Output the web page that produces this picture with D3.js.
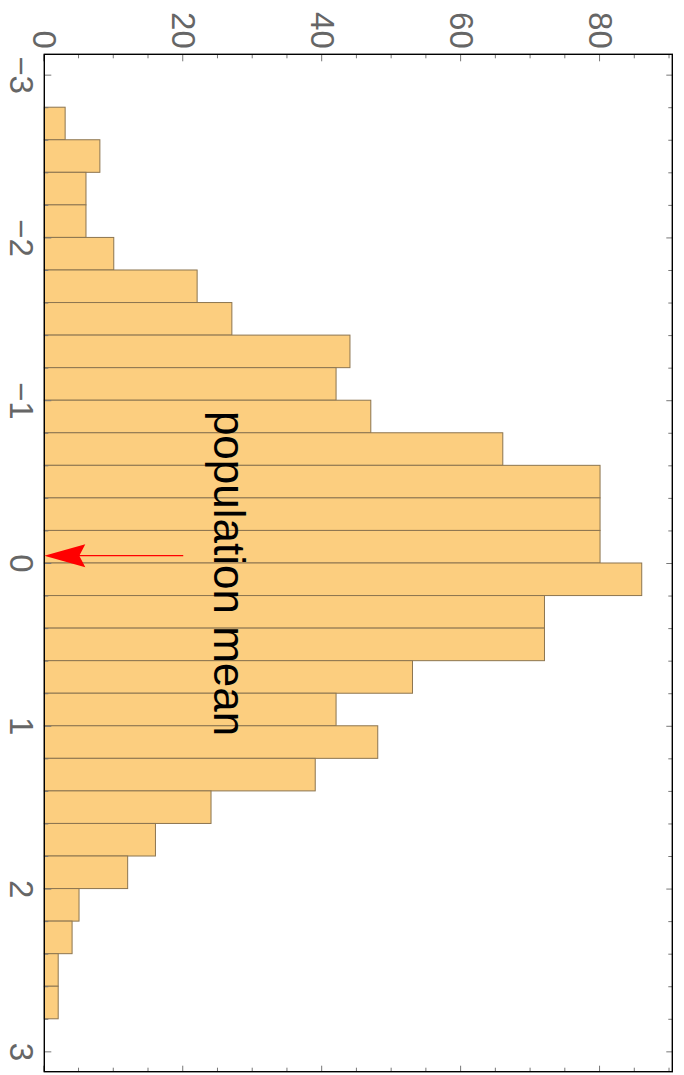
<!DOCTYPE html>
<html>
<head>
<meta charset="utf-8">
<script src="https://cdn.jsdelivr.net/npm/d3@7"></script>
<style>
  html, body { margin: 0; padding: 0; background: #fff; }
  svg { display: block; }
</style>
</head>
<body>
<script>
// Histogram bins (lower edge of each 0.2-wide bin) and their counts
const binStarts = [-2.8, -2.6, -2.4, -2.2, -2.0, -1.8, -1.6, -1.4, -1.2, -1.0,
                   -0.8, -0.6, -0.4, -0.2, 0.0, 0.2, 0.4, 0.6, 0.8, 1.0,
                   1.2, 1.4, 1.6, 1.8, 2.0, 2.2, 2.4, 2.6];
const counts = [3, 8, 6, 6, 10, 22, 27, 44, 42, 47,
                66, 80, 80, 80, 86, 72, 72, 53, 42, 48,
                39, 24, 16, 12, 5, 4, 2, 2];
const binWidth = 0.2;

// Axis ticks
const valueTicks = [-3, -2, -1, 0, 1, 2, 3];
const countTicks = [0, 20, 40, 60, 80];

// Annotation: arrow pointing at the mean, with its caption
const meanValue = -0.045;
const arrowFrom = 20;
const arrowTo = 0;
const captionText = "population mean";
const captionAt = [0.065, 24.4];

const W = 684, H = 1075;
const svg = d3.select("body").append("svg").attr("width", W).attr("height", H);

// The histogram is laid out in a landscape frame, then turned a quarter turn clockwise
const g = svg.append("g").attr("transform", `translate(${W},0) rotate(90)`);

const plot = { left: 54.3, right: 1071.7, top: 11.7, bottom: 639.7 };
const x = d3.scaleLinear().domain([-3.125, 3.125]).range([plot.left, plot.right]);
const y = d3.scaleLinear().domain([0, 90.4]).range([plot.bottom, plot.top]);

// Bars
g.append("g").selectAll("rect")
  .data(binStarts.map((s, i) => ({ s, c: counts[i] })))
  .join("rect")
  .attr("x", d => x(d.s))
  .attr("width", d => x(d.s + binWidth) - x(d.s))
  .attr("y", d => y(d.c))
  .attr("height", d => y(0) - y(d.c))
  .attr("fill", "#fcce7f")
  .attr("stroke", "#8c7550")
  .attr("stroke-width", 1);

// Axes: minor and major ticks pointing inward on all four sides
const minorValue = d3.range(-30, 31, 2).map(v => v / 10).filter(v => !valueTicks.includes(v));
const minorCount = d3.range(5, 91, 5).filter(v => !countTicks.includes(v));
const tickColor = "#777";
const labelFont = "'Liberation Sans', Arial, Helvetica, sans-serif";

function styleAxis(sel) {
  sel.select(".domain").remove();
  sel.selectAll(".tick line").attr("stroke", tickColor).attr("stroke-width", 1);
  sel.selectAll(".tick text")
    .attr("fill", "#666")
    .style("font-family", labelFont)
    .style("font-size", "33px");
}

// bottom (value axis with labels)
g.append("g").attr("transform", `translate(0,${plot.bottom})`)
  .call(d3.axisBottom(x).tickValues(minorValue).tickSizeInner(-4).tickSizeOuter(0).tickFormat(""))
  .call(styleAxis);
g.append("g").attr("transform", `translate(0,${plot.bottom})`)
  .call(d3.axisBottom(x).tickValues(valueTicks).tickSizeInner(-7).tickSizeOuter(0).tickPadding(11).tickFormat(d3.format("d")))
  .call(styleAxis);

// top (value axis, ticks only)
g.append("g").attr("transform", `translate(0,${plot.top})`)
  .call(d3.axisTop(x).tickValues(minorValue).tickSizeInner(-4).tickSizeOuter(0).tickFormat(""))
  .call(styleAxis);
g.append("g").attr("transform", `translate(0,${plot.top})`)
  .call(d3.axisTop(x).tickValues(valueTicks).tickSizeInner(-6).tickSizeOuter(0).tickFormat(""))
  .call(styleAxis);

// left (count axis with labels)
g.append("g").attr("transform", `translate(${plot.left},0)`)
  .call(d3.axisLeft(y).tickValues(minorCount).tickSizeInner(-4).tickSizeOuter(0).tickFormat(""))
  .call(styleAxis);
g.append("g").attr("transform", `translate(${plot.left},0)`)
  .call(d3.axisLeft(y).tickValues(countTicks).tickSizeInner(-7).tickSizeOuter(0).tickPadding(5.5).tickFormat(d3.format("d")))
  .call(styleAxis);

// right (count axis, ticks only)
g.append("g").attr("transform", `translate(${plot.right},0)`)
  .call(d3.axisRight(y).tickValues(minorCount).tickSizeInner(-4).tickSizeOuter(0).tickFormat(""))
  .call(styleAxis);
g.append("g").attr("transform", `translate(${plot.right},0)`)
  .call(d3.axisRight(y).tickValues(countTicks).tickSizeInner(-6).tickSizeOuter(0).tickFormat(""))
  .call(styleAxis);

// Frame
g.append("rect")
  .attr("x", plot.left).attr("y", plot.top)
  .attr("width", plot.right - plot.left).attr("height", plot.bottom - plot.top)
  .attr("fill", "none").attr("stroke", "#000").attr("stroke-width", 1.4);

// Arrow to the mean
const au = x(meanValue);
const tip = y(arrowTo);
const headLen = 41, headHalf = 11.5, notch = 35;
g.append("line")
  .attr("x1", au).attr("x2", au)
  .attr("y1", y(arrowFrom)).attr("y2", tip - notch + 1)
  .attr("stroke", "#ff0000").attr("stroke-width", 1.4);
g.append("path")
  .attr("d", `M${au},${tip} L${au - headHalf},${tip - headLen} L${au},${tip - notch} L${au + headHalf},${tip - headLen} Z`)
  .attr("fill", "#ff0000");

// Caption
g.append("text")
  .attr("x", x(captionAt[0]))
  .attr("y", y(captionAt[1]))
  .attr("text-anchor", "middle")
  .style("font-family", labelFont)
  .style("font-size", "44px")
  .attr("fill", "#000")
  .text(captionText);
</script>
</body>
</html>
